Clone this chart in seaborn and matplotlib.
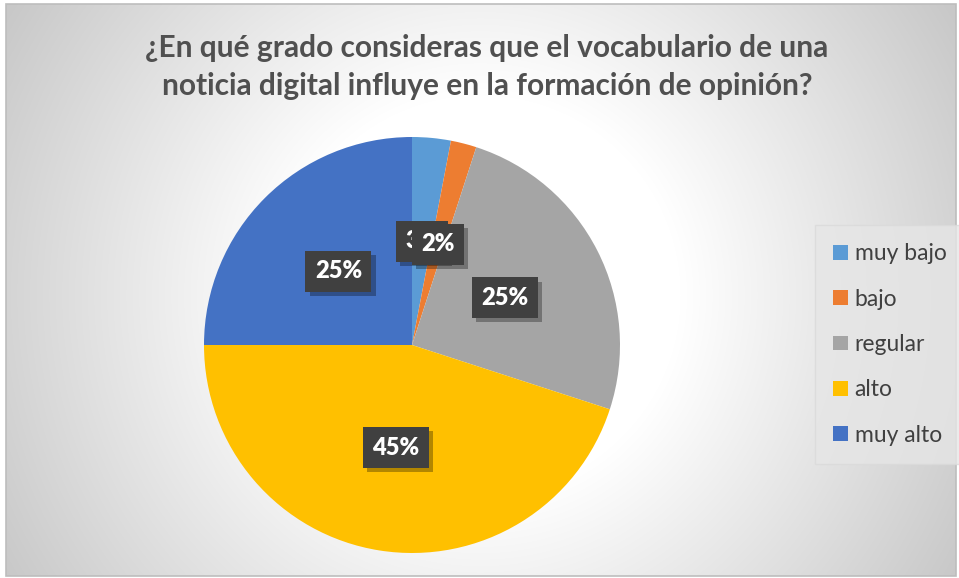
import numpy as np
import matplotlib
matplotlib.use("Agg")
import matplotlib.pyplot as plt
import matplotlib.patheffects as pe
from matplotlib.patches import Rectangle
import seaborn as sns

# ---- data ----
categories = ["muy bajo", "bajo", "regular", "alto", "muy alto"]
values = [3, 2, 25, 45, 25]
pct_labels = ["3%", "2%", "25%", "45%", "25%"]
colors_hex = ["#5B9BD5", "#ED7D31", "#A5A5A5", "#FFC000", "#4472C4"]
title = "¿En qué grado consideras que el vocabulario de una\nnoticia digital influye en la formación de opinión?"

sns.set_theme(style="white")
plt.rcParams["font.family"] = ["Lato", "DejaVu Sans"]
palette = sns.color_palette(colors_hex)

W, H = 959, 578
fig = plt.figure(figsize=(W / 100, H / 100), dpi=100)
fig.patch.set_facecolor("white")

# ---- background radial gradient ----
bg = fig.add_axes([0, 0, 1, 1])
bg.set_xlim(0, W)
bg.set_ylim(H, 0)
bg.axis("off")
x0, y0, x1, y1 = 6, 4, 956, 576
yy, xx = np.mgrid[y0:y1, x0:x1]
d = np.hypot(xx - 480, yy - 295)
v = (255 - 55 * np.clip((d - 200) / 353, 0, 1)) / 255.0
bg.imshow(np.dstack([v, v, v]), extent=(x0, x1, y1, y0), aspect="auto", zorder=0)
bg.add_patch(Rectangle((x0, y0), x1 - x0, y1 - y0, fill=False, edgecolor="#bdbdbd", lw=1.2, zorder=1))

# ---- title ----
fig.text(487 / W, 1 - 67 / H, title, ha="center", va="center", fontsize=21.5,
         fontweight="bold", color="#505050", linespacing=1.42)

# ---- pie ----
cx, cy, r = 412, 345, 208
ax = fig.add_axes([(cx - r) / W, (H - cy - r) / H, 2 * r / W, 2 * r / H])
ax.set_facecolor("none")
wedges, texts = ax.pie(values, colors=palette, startangle=90, counterclock=False,
                       radius=1, wedgeprops=dict(linewidth=0), frame=False)
ax.set_xlim(-1, 1)
ax.set_ylim(-1, 1)
ax.axis("off")

theta = 90.0
for val, lab in zip(values, pct_labels):
    span = 360.0 * val / sum(values)
    mid = np.deg2rad(theta - span / 2)
    theta -= span
    t = ax.text(0.5 * np.cos(mid), 0.5 * np.sin(mid), lab, ha="center", va="center",
                fontsize=17, fontweight="heavy", color="white",
                bbox=dict(boxstyle="square,pad=0.4", facecolor="#404040",
                          edgecolor="none", linewidth=0))
    t.get_bbox_patch().set_path_effects([
        pe.withSimplePatchShadow(offset=(3, -3), shadow_rgbFace="black", alpha=0.3)])

# ---- legend ----
handles = [Rectangle((0, 0), 1, 1, facecolor=c, edgecolor="none") for c in palette]
leg = fig.legend(handles, categories, loc="upper left",
                 bbox_to_anchor=(822 / W, 1 - 232 / H), frameon=True,
                 fontsize=16.5, handlelength=0.62, handleheight=0.62,
                 handletextpad=0.3, labelspacing=1.06, borderpad=0.5,
                 borderaxespad=0, labelcolor="#404040")
frame = leg.get_frame()
frame.set_facecolor("#e6e6e6")
frame.set_edgecolor("#dadada")
frame.set_alpha(0.8)
frame.set_boxstyle("square")

fig.savefig("out.png", dpi=100, facecolor="white")
